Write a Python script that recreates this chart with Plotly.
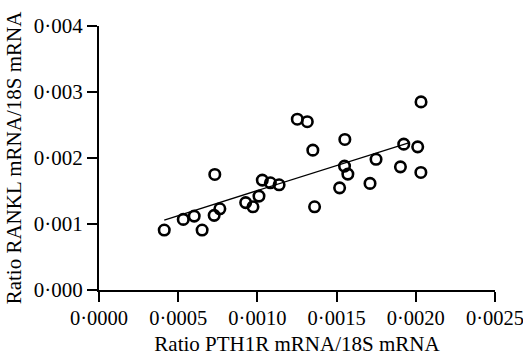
import plotly.graph_objects as go

# PTH1R / 18S ratio (x) and RANKL / 18S ratio (y)
pth1r = [0.000412, 0.000532, 0.000601, 0.000651, 0.000727, 0.000763, 0.000731,
         0.000926, 0.000972, 0.001010, 0.001031, 0.001082, 0.001137, 0.001252,
         0.001315, 0.001350, 0.001361, 0.001519, 0.001552, 0.001550, 0.001571,
         0.001711, 0.001749, 0.001903, 0.001924, 0.002012, 0.002032, 0.002033]
rankl = [0.000908, 0.001070, 0.001120, 0.000908, 0.001131, 0.001230, 0.001751,
         0.001324, 0.001261, 0.001423, 0.001665, 0.001624, 0.001594, 0.002588,
         0.002550, 0.002119, 0.001261, 0.001548, 0.002281, 0.001877, 0.001756,
         0.001615, 0.001980, 0.001866, 0.002210, 0.002169, 0.001781, 0.002850]

# regression line as drawn (slope, intercept, x extent)
fit_slope = 0.758
fit_intercept = 0.000748
fit_x = [0.000412, 0.00196]
fit_y = [fit_intercept + fit_slope * v for v in fit_x]

x_ticks = [0, 0.0005, 0.0010, 0.0015, 0.0020, 0.0025]
x_ticklabels = ["0·0000", "0·0005", "0·0010", "0·0015", "0·0020", "0·0025"]
y_ticks = [0, 0.001, 0.002, 0.003, 0.004]
y_ticklabels = ["0·000", "0·001", "0·002", "0·003", "0·004"]

FONT = "Liberation Serif"
FS = 21

fig = go.Figure()
fig.add_trace(go.Scatter(x=fit_x, y=fit_y, mode="lines",
                         line=dict(color="black", width=1.3), hoverinfo="skip"))
fig.add_trace(go.Scatter(x=pth1r, y=rankl, mode="markers",
                         marker=dict(symbol="circle-open", size=10.5,
                                     color="black", line=dict(width=2.6))))

fig.update_layout(
    width=523, height=358,
    margin=dict(l=99, r=28, t=26, b=68),
    paper_bgcolor="white", plot_bgcolor="white",
    showlegend=False,
    font=dict(family=FONT, size=FS, color="black"),
    xaxis=dict(range=[0, 0.0025], tickvals=x_ticks, ticktext=x_ticklabels,
               automargin=False, ticklabeloverflow="allow",
               showgrid=False, zeroline=False, showline=True, linecolor="black",
               linewidth=2.2, ticks="outside", ticklen=10, tickwidth=2.2,
               tickcolor="black", tickfont=dict(family=FONT, size=20.5),
               ticklabelstandoff=-2,
               title=dict(text="Ratio PTH1R mRNA/18S mRNA", standoff=9,
                          font=dict(family=FONT, size=FS))),
    yaxis=dict(range=[0, 0.004], tickvals=y_ticks, ticktext=y_ticklabels,
               automargin=False, ticklabeloverflow="allow",
               showgrid=False, zeroline=False, showline=True, linecolor="black",
               linewidth=2.2, ticks="outside", ticklen=10, tickwidth=2.2,
               tickcolor="black", tickfont=dict(family=FONT, size=FS),
               title=dict(text="Ratio RANKL mRNA/18S mRNA", standoff=6,
                          font=dict(family=FONT, size=FS))),
)

fig.write_html("out.html", config={"displayModeBar": False},
               post_script="document.body.style.margin='0';"
                           "document.body.style.overflow='hidden';")
